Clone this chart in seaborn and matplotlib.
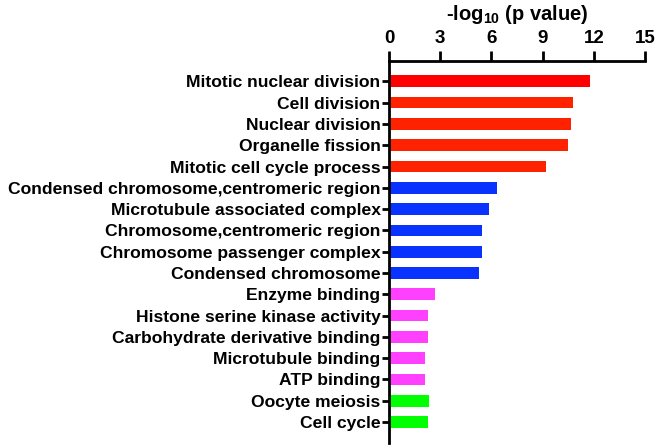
import matplotlib
matplotlib.use("Agg")
import matplotlib.pyplot as plt
import seaborn as sns
import pandas as pd

terms = [
    "Mitotic nuclear division",
    "Cell division",
    "Nuclear division",
    "Organelle fission",
    "Mitotic cell cycle process",
    "Condensed chromosome,centromeric region",
    "Microtubule associated complex",
    "Chromosome,centromeric region",
    "Chromosome passenger complex",
    "Condensed chromosome",
    "Enzyme binding",
    "Histone serine kinase activity",
    "Carbohydrate derivative binding",
    "Microtubule binding",
    "ATP binding",
    "Oocyte meiosis",
    "Cell cycle",
]
values = [11.79, 10.79, 10.67, 10.50, 9.19,
          6.34, 5.85, 5.47, 5.42, 5.26,
          2.72, 2.31, 2.30, 2.13, 2.09,
          2.37, 2.31]
colors = ["#FF0000", "#FF2200", "#FF2200", "#FF2200", "#FF2200",
          "#0A32FF", "#0A32FF", "#0A32FF", "#0A32FF", "#0A32FF",
          "#FF40FF", "#FF40FF", "#FF40FF", "#FF40FF", "#FF40FF",
          "#00FF00", "#00FF00"]
xticks = [0, 3, 6, 9, 12, 15]

sns.set_style("ticks")
plt.rcParams["font.family"] = ["Liberation Sans", "DejaVu Sans"]
plt.rcParams["font.weight"] = "bold"
plt.rcParams["text.color"] = "black"
plt.rcParams["xtick.color"] = "black"
plt.rcParams["ytick.color"] = "black"
plt.rcParams["axes.labelcolor"] = "black"
plt.rcParams["mathtext.fontset"] = "custom"
plt.rcParams["mathtext.rm"] = "Liberation Sans:bold"
plt.rcParams["mathtext.it"] = "Liberation Sans:bold"
plt.rcParams["mathtext.bf"] = "Liberation Sans:bold"
plt.rcParams["mathtext.default"] = "rm"

df = pd.DataFrame({"term": terms, "value": values})

fig = plt.figure(figsize=(6.57, 4.46), dpi=100)
ax = fig.add_axes([0.592, 0.007, 0.390, 0.856])
sns.barplot(data=df, x="value", y="term", hue="term", palette=colors,
            dodge=False, legend=False, width=0.55, ax=ax, orient="h",
            edgecolor="none", saturation=1)

ax.set_xlim(0, 15)
ax.set_ylim(len(terms) - 1 + 0.98, -0.95)
ax.set_xticks(xticks)
ax.xaxis.tick_top()
ax.xaxis.set_label_position("top")
ax.set_xlabel(r"-log$_{10}$ (p value)", fontsize=14.5, fontweight="bold", labelpad=7)
ax.set_ylabel("")
for s in ["right", "bottom"]:
    ax.spines[s].set_visible(False)
for s in ["left", "top"]:
    ax.spines[s].set_linewidth(2)
    ax.spines[s].set_color("black")
ax.tick_params(axis="x", labelsize=13.5, width=2, length=7, pad=3)
ax.tick_params(axis="y", labelsize=12.6, width=2, length=5, pad=1)
for lab in ax.get_xticklabels() + ax.get_yticklabels():
    lab.set_fontweight("bold")

fig.savefig("out.png", dpi=100, facecolor="white")
